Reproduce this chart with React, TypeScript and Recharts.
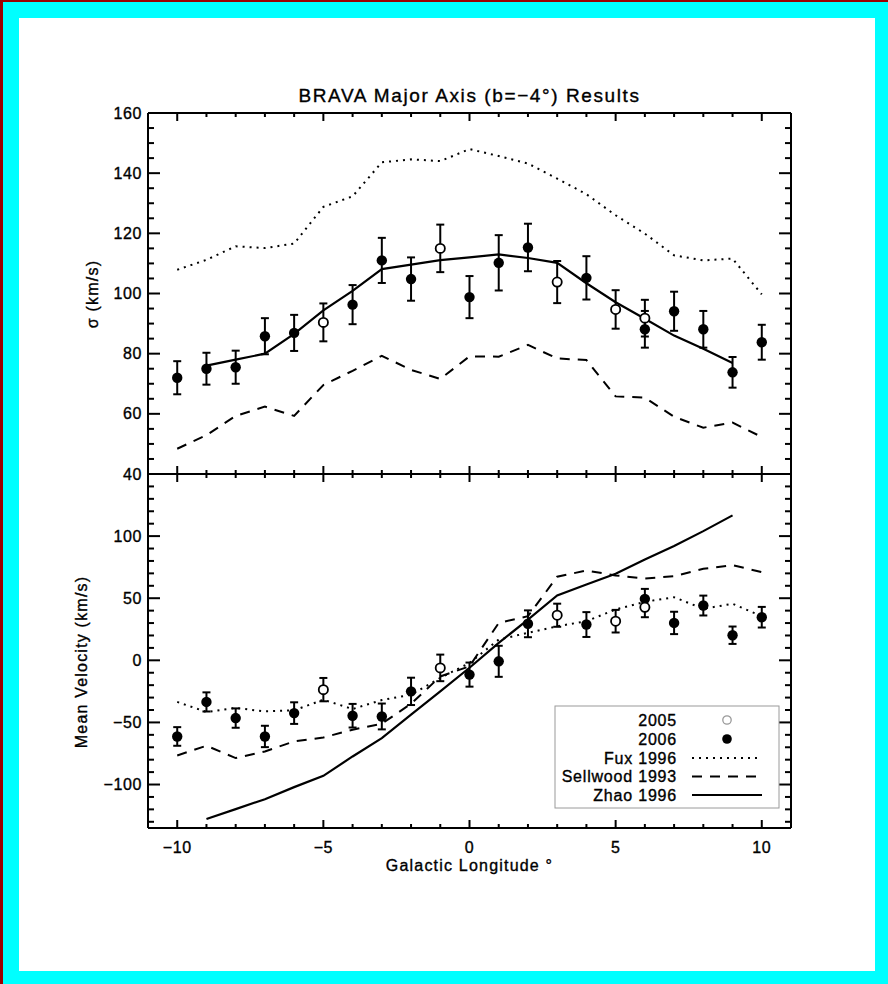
import React from "react";
import { ComposedChart, Line, Scatter, XAxis, YAxis, ErrorBar, Label } from "recharts";

const FONT = '"Liberation Sans", Arial, Helvetica, sans-serif';

// galactic longitude grid of the model curves
const lonModel = [-10, -9, -8, -7, -6, -5, -4, -3, -2, -1, 0, 1, 2, 3, 4, 5, 6, 7, 8, 9, 10];
const lonZhao = [-9, -8, -7, -6, -5, -4, -3, -2, -1, 0, 1, 2, 3, 4, 5, 6, 7, 8, 9];

// observed fields
const lon2006 = [-10, -9, -8, -7, -6, -4, -3, -2, 0, 1, 2, 4, 6, 7, 8, 9, 10];
const lon2005 = [-5, -1, 3, 5, 6];

// dispersion (km/s)
const sigma2006 = [72, 75, 75.5, 85.8, 86.9, 96.3, 111, 104.8, 98.8, 110.2, 115.3, 105.2, 88.1, 94.1, 88.1, 73.8, 83.8];
const sigma2006Err = [5.5, 5.3, 5.5, 6, 6, 6.5, 7.5, 7.2, 7, 9.2, 7.9, 7.2, 6.1, 6.5, 6.1, 5.1, 5.8];
const sigma2005 = [90.4, 115, 103.8, 94.7, 91.8];
const sigma2005Err = [6.3, 7.9, 7, 6.4, 6.1];
const sigmaFux = [107.9, 111.2, 115.7, 115.1, 116.6, 128.8, 132.3, 143.6, 144.6, 144, 148, 145.7, 143.2, 138.2, 133, 126, 119.9, 112.7, 111, 111.6, 99.7];
const sigmaSellwood = [48.4, 52.9, 59.3, 62.4, 59.3, 69.6, 74.3, 79.3, 74.6, 71.6, 79.1, 79, 82.9, 78.4, 77.9, 65.8, 65.4, 59, 55.4, 57.1, 52.3];
const sigmaZhao = [76, 78, 80, 86.6, 94.4, 100.9, 108.1, 109.6, 111.1, 112, 113, 111.8, 110.2, 103.4, 97.1, 91.6, 86, 81.6, 76.9];

// mean velocity (km/s)
const vel2006 = [-61.3, -33.5, -46.5, -61.3, -42.5, -44.6, -45.2, -25, -11.5, -0.8, 29.4, 28.8, 49.5, 30.1, 44.1, 20.2, 34.7];
const vel2006Err = [7.5, 7.7, 7.8, 8.6, 8.7, 9.5, 10.4, 11, 9.7, 12.5, 10.8, 10, 8, 9, 8, 7, 8.3];
const vel2005 = [-23.6, -6.1, 36.3, 31.5, 42.7];
const vel2005Err = [9.4, 10.7, 9.3, 9.1, 8];
const velFux = [-33.5, -41.6, -38.4, -41.1, -40.3, -31.7, -39.2, -32, -27.7, -14.2, -2.1, 16.7, 22.1, 27.4, 31.5, 40.9, 47.1, 50.8, 41.5, 45.5, 35.5];
const velSellwood = [-76.6, -68.8, -78.7, -73.4, -65.3, -62.1, -55.9, -51, -35, -13, -4.8, 30.1, 35.5, 67.3, 72.3, 68.3, 65.9, 67.7, 73.7, 76.6, 71];
const velZhao = [-127.7, -119.8, -111.8, -102.1, -93, -77.4, -62.6, -43.8, -25, -6, 14, 32.8, 52.2, 61, 69.7, 81.2, 92, 104, 116.7];

// ticks
const xMajor = [-10, -5, 0, 5, 10];
const xAll = [-10, -9, -8, -7, -6, -5, -4, -3, -2, -1, 0, 1, 2, 3, 4, 5, 6, 7, 8, 9, 10];
const sigMajor = [40, 60, 80, 100, 120, 140, 160];
const sigAll = [40, 45, 50, 55, 60, 65, 70, 75, 80, 85, 90, 95, 100, 105, 110, 115, 120, 125, 130, 135, 140, 145, 150, 155, 160];
const velMajor = [-100, -50, 0, 50, 100];
const velAll = [-130, -120, -110, -100, -90, -80, -70, -60, -50, -40, -30, -20, -10, 0, 10, 20, 30, 40, 50, 60, 70, 80, 90, 100, 110, 120, 130, 140];

const legendNames = ["2005", "2006", "Fux 1996", "Sellwood 1993", "Zhao 1996"];

const pts = (xs: number[], ys: number[], es?: number[]) =>
  xs.map((x, i) => ({ x, y: ys[i], e: es ? es[i] : 0 }));

const fmt = (v: number) => (v < 0 ? "\u2212" + Math.abs(v) : String(v));

// the original plot font is a bit heavier than Liberation regular
const TXT = { fill: "#000", stroke: "#000", strokeWidth: 0.35, fontFamily: FONT };

type Side = "bottom" | "top" | "left" | "right";

function makeTick(side: Side, major: number[], labels: boolean, majLen: number, minLen: number) {
  return (p: any) => {
    const v = p.payload.value;
    const isMajor = major.includes(v);
    const len = isMajor ? majLen : minLen;
    const x = p.x;
    const y = p.y;
    let l = { x1: x, y1: y, x2: x, y2: y };
    if (side === "bottom") l = { x1: x, y1: y, x2: x, y2: y - len };
    if (side === "top") l = { x1: x, y1: y, x2: x, y2: y + len };
    if (side === "left") l = { x1: x, y1: y, x2: x + len, y2: y };
    if (side === "right") l = { x1: x, y1: y, x2: x - len, y2: y };
    return (
      <g>
        <line {...l} stroke="#000" strokeWidth={2} />
        {labels && isMajor && side === "bottom" && (
          <text x={x} y={y + 19} textAnchor="middle" dominantBaseline="central" fontSize={16} letterSpacing={0.6} {...TXT}>
            {fmt(v)}
          </text>
        )}
        {labels && isMajor && side === "left" && (
          <text x={x - 6} y={y} textAnchor="end" dominantBaseline="central" fontSize={16} letterSpacing={0.6} {...TXT}>
            {fmt(v)}
          </text>
        )}
      </g>
    );
  };
}

const dot = (open: boolean) => (p: any) =>
  open ? (
    <circle cx={p.cx} cy={p.cy} r={4.6} fill="#fff" stroke="#000" strokeWidth={1.8} />
  ) : (
    <circle cx={p.cx} cy={p.cy} r={5.2} fill="#000" />
  );

const X_DOMAIN: [number, number] = [-11, 11];
const W = 888;
// plot box spans x 148 .. 791; axes are 1px thick boxes so margins are 1px less
const M_LEFT = 147;
const M_RIGHT = 96;

function Panel({
  height,
  top,
  bottom,
  yDomain,
  yMajor,
  yAll,
  xLabels,
  data2006,
  data2005,
  fux,
  sellwood,
  zhao,
  children,
}: any) {
  return (
    <ComposedChart width={W} height={height} margin={{ top: top - 1, right: M_RIGHT, bottom: bottom - 1, left: M_LEFT }}>
      <XAxis
        xAxisId="b"
        dataKey="x"
        type="number"
        domain={X_DOMAIN}
        allowDataOverflow
        ticks={xAll}
        interval={0}
        height={1}
        tickSize={0}
        tickMargin={0}
        tickLine={false}
        axisLine={{ stroke: "#000", strokeWidth: 2 }}
        tick={makeTick("bottom", xMajor, xLabels, 8, 4)}
      >
        {children}
      </XAxis>
      <XAxis
        xAxisId="t"
        orientation="top"
        dataKey="x"
        type="number"
        domain={X_DOMAIN}
        allowDataOverflow
        ticks={xAll}
        interval={0}
        height={1}
        tickSize={0}
        tickMargin={0}
        tickLine={false}
        axisLine={{ stroke: "#000", strokeWidth: 2 }}
        tick={makeTick("top", xMajor, false, 8, 4)}
      />
      <YAxis
        yAxisId="l"
        type="number"
        domain={yDomain}
        allowDataOverflow
        ticks={yAll}
        interval={0}
        width={1}
        tickSize={0}
        tickMargin={0}
        tickLine={false}
        axisLine={{ stroke: "#000", strokeWidth: 2 }}
        tick={makeTick("left", yMajor, true, 12, 6)}
      />
      <YAxis
        yAxisId="r"
        orientation="right"
        type="number"
        domain={yDomain}
        allowDataOverflow
        ticks={yAll}
        interval={0}
        width={1}
        tickSize={0}
        tickMargin={0}
        tickLine={false}
        axisLine={{ stroke: "#000", strokeWidth: 2 }}
        tick={makeTick("right", yMajor, false, 12, 6)}
      />
      <Line xAxisId="b" yAxisId="l" data={fux} dataKey="y" type="linear" stroke="#000" strokeWidth={2} strokeDasharray="2 5" dot={false} isAnimationActive={false} />
      <Line xAxisId="b" yAxisId="l" data={sellwood} dataKey="y" type="linear" stroke="#000" strokeWidth={2} strokeDasharray="10 8" dot={false} isAnimationActive={false} />
      <Line xAxisId="b" yAxisId="l" data={zhao} dataKey="y" type="linear" stroke="#000" strokeWidth={2.2} dot={false} isAnimationActive={false} />
      <Scatter xAxisId="b" yAxisId="l" data={data2006} dataKey="y" shape={dot(false)} isAnimationActive={false}>
        <ErrorBar dataKey="e" direction="y" width={4} stroke="#000" strokeWidth={2} isAnimationActive={false} />
      </Scatter>
      <Scatter xAxisId="b" yAxisId="l" data={data2005} dataKey="y" shape={dot(true)} isAnimationActive={false}>
        <ErrorBar dataKey="e" direction="y" width={4} stroke="#000" strokeWidth={2} isAnimationActive={false} />
      </Scatter>
    </ComposedChart>
  );
}

function LegendBox() {
  const rowY = [15, 34, 53, 71.5, 90];
  return (
    <svg width={226} height={104} style={{ position: "absolute", left: 554, top: 705 }}>
      <rect x={1} y={1} width={224} height={102} fill="#fff" stroke="#9a9a9a" strokeWidth={1} />
      {legendNames.map((n, i) => (
        <text key={n} x={123} y={rowY[i]} textAnchor="end" dominantBaseline="central" fontSize={16} letterSpacing={0.8} {...TXT}>
          {n}
        </text>
      ))}
      <circle cx={173} cy={rowY[0]} r={4.2} fill="#fff" stroke="#999" strokeWidth={1.3} />
      <circle cx={173} cy={rowY[1]} r={4.8} fill="#000" />
      <line x1={138} x2={208} y1={rowY[2]} y2={rowY[2]} stroke="#000" strokeWidth={2} strokeDasharray="2 5" />
      <line x1={138} x2={207} y1={rowY[3]} y2={rowY[3]} stroke="#000" strokeWidth={2} strokeDasharray="10 8" />
      <line x1={138} x2={208} y1={rowY[4]} y2={rowY[4]} stroke="#000" strokeWidth={2} />
    </svg>
  );
}

export default function App() {
  return (
    <div style={{ position: "absolute", left: 0, top: 0, width: 888, height: 984, background: "#9b0000", overflow: "hidden", fontFamily: FONT }}>
      <div style={{ position: "absolute", left: 3, top: 2, width: 885, height: 982, background: "#00ffff" }} />
      <div style={{ position: "absolute", left: 19, top: 18, width: 856, height: 953, background: "#fff" }} />
      <div
        style={{
          position: "absolute",
          left: 148,
          width: 643,
          top: 85,
          textAlign: "center",
          fontSize: 19,
          letterSpacing: 1.6,
          lineHeight: "22px",
          color: "#000",
          WebkitTextStroke: "0.35px #000",
        }}
      >
        BRAVA Major Axis (b=−4°) Results
      </div>
      <div style={{ position: "absolute", left: 0, top: 0 }}>
        <Panel
          height={500}
          top={113}
          bottom={26}
          yDomain={[40, 160]}
          yMajor={sigMajor}
          yAll={sigAll}
          xLabels={false}
          data2006={pts(lon2006, sigma2006, sigma2006Err)}
          data2005={pts(lon2005, sigma2005, sigma2005Err)}
          fux={pts(lonModel, sigmaFux)}
          sellwood={pts(lonModel, sigmaSellwood)}
          zhao={pts(lonZhao, sigmaZhao)}
        />
      </div>
      <div style={{ position: "absolute", left: 0, top: 0 }}>
        <Panel
          height={984}
          top={474}
          bottom={156}
          yDomain={[-135, 150]}
          yMajor={velMajor}
          yAll={velAll}
          xLabels={true}
          data2006={pts(lon2006, vel2006, vel2006Err)}
          data2005={pts(lon2005, vel2005, vel2005Err)}
          fux={pts(lonModel, velFux)}
          sellwood={pts(lonModel, velSellwood)}
          zhao={pts(lonZhao, velZhao)}
        >
          <Label value="Galactic Longitude °" position="bottom" offset={31} fontSize={16} letterSpacing={1.2} {...TXT} />
        </Panel>
      </div>
      <svg width={120} height={984} style={{ position: "absolute", left: 0, top: 0 }}>
        <text x={92} y={294} transform="rotate(-90 92 294)" textAnchor="middle" dominantBaseline="central" fontSize={16} letterSpacing={1.2} {...TXT}>
          σ (km/s)
        </text>
        <text x={81} y={662} transform="rotate(-90 81 662)" textAnchor="middle" dominantBaseline="central" fontSize={16} letterSpacing={1.2} {...TXT}>
          Mean Velocity (km/s)
        </text>
      </svg>
      <LegendBox />
    </div>
  );
}
